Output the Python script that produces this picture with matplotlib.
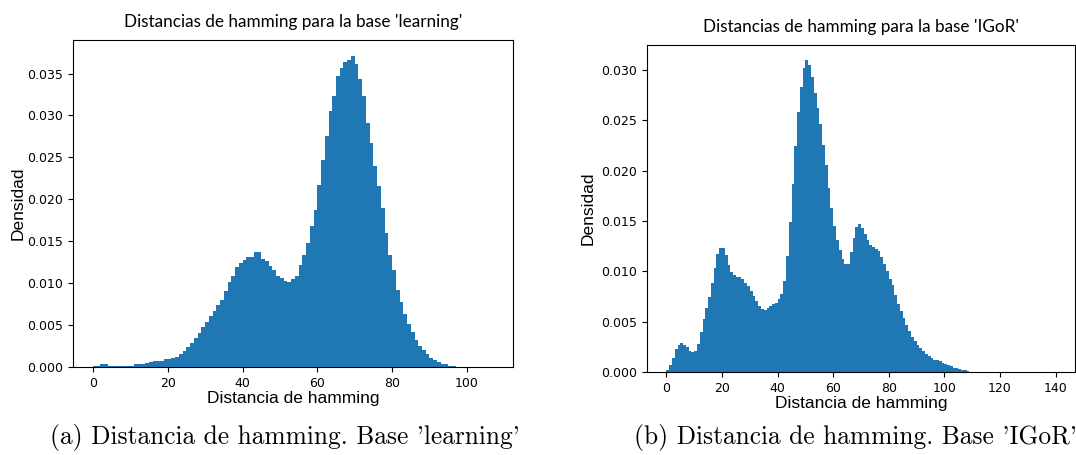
import numpy as np
import matplotlib.pyplot as plt

# densidad por distancia (bins de ancho 1, empezando en 0)
dens_learning = [
    0.0001, 0.0001, 0.0003, 0.0003, 0.0001, 0.0001, 0.0001, 0.0001, 0.0001, 0.0001,
    0.0001, 0.00035, 0.0003, 0.0004, 0.0005, 0.00055, 0.0007, 0.0007, 0.00075, 0.0009,
    0.0009, 0.0011, 0.0012, 0.0015, 0.0019, 0.0024, 0.0029, 0.0034, 0.0040, 0.0048,
    0.0054, 0.0061, 0.0067, 0.0074, 0.0080, 0.0091, 0.0101, 0.0108, 0.0119, 0.0124,
    0.0128, 0.0131, 0.0131, 0.0137, 0.0137, 0.0129, 0.0126, 0.0120, 0.0116, 0.0108,
    0.0106, 0.0102, 0.0101, 0.0105, 0.0108, 0.0122, 0.0134, 0.0148, 0.0168, 0.0187,
    0.0217, 0.0247, 0.0276, 0.0305, 0.0323, 0.0347, 0.0357, 0.0364, 0.0366, 0.0371,
    0.0361, 0.0343, 0.0323, 0.0291, 0.0267, 0.0240, 0.0216, 0.0190, 0.0160, 0.0133,
    0.0116, 0.0092, 0.0078, 0.0063, 0.0051, 0.0042, 0.0032, 0.0025, 0.0020, 0.0015,
    0.0011, 0.0008, 0.0006, 0.0004, 0.0003, 0.00015, 0.0001, 0.00004,
]

dens_igor = [
    0.00017, 0.0007, 0.0014, 0.0023, 0.0027, 0.0029, 0.0027, 0.0025, 0.0021, 0.0020,
    0.0021, 0.0028, 0.0040, 0.0053, 0.0064, 0.0075, 0.0088, 0.0103, 0.0117, 0.0123,
    0.0123, 0.0116, 0.0106, 0.0099, 0.0096, 0.0094, 0.0094, 0.0092, 0.0088, 0.0085,
    0.0081, 0.0076, 0.0071, 0.0066, 0.0063, 0.0062, 0.0064, 0.0066, 0.0068, 0.0069,
    0.0073, 0.0078, 0.0090, 0.0115, 0.0149, 0.0187, 0.0225, 0.0258, 0.0283, 0.0302,
    0.0310, 0.0305, 0.0293, 0.0277, 0.0262, 0.0246, 0.0226, 0.0206, 0.0183, 0.0163,
    0.0145, 0.0131, 0.0121, 0.0112, 0.0107, 0.0107, 0.0119, 0.0133, 0.0144, 0.0147,
    0.0143, 0.0137, 0.0131, 0.0126, 0.0124, 0.0122, 0.0120, 0.0114, 0.0107, 0.0100,
    0.0092, 0.0086, 0.0077, 0.0068, 0.0061, 0.0054, 0.0047, 0.0041, 0.0035, 0.0031,
    0.0027, 0.0024, 0.0021, 0.0018, 0.0016, 0.0014, 0.0012, 0.0012, 0.0011, 0.0009,
    0.0008, 0.0007, 0.0006, 0.0004, 0.00036, 0.0003, 0.0002, 0.00017, 0.0001, 0.00003,
]

titles = ["Distancias de hamming para la base 'learning'",
          "Distancias de hamming para la base 'IGoR'"]
captions = ["(a) Distancia de hamming. Base 'learning'",
            "(b) Distancia de hamming. Base 'IGoR'"]

fig = plt.figure(figsize=(10.76, 4.55), dpi=100)
ax1 = fig.add_axes([0.0678, 0.1934, 0.409, 0.7187])
ax2 = fig.add_axes([0.6013, 0.1824, 0.3978, 0.7187])

for ax, dens, title in [(ax1, dens_learning, titles[0]), (ax2, dens_igor, titles[1])]:
    edges = np.arange(len(dens) + 1)
    ax.hist(edges[:-1], bins=edges, weights=dens, color='#1f77b4')
    ax.set_title(title, fontsize=12.3, family=['Lato', 'DejaVu Sans'], pad=9)
    ax.set_xlabel("Distancia de hamming", fontsize=12.5, family='Liberation Sans', labelpad=1)
    ax.set_ylabel("Densidad", fontsize=12.5, family='Liberation Sans', labelpad=4)
    ax.tick_params(labelsize=9)

ax1.yaxis.labelpad = 1.5

ax1.set_xlim(-5.35, 112.35)
ax1.set_ylim(0, 0.039)
ax1.set_yticks(np.arange(0, 0.0351, 0.005))
ax1.set_xticks([0, 20, 40, 60, 80, 100])

ax2.set_xlim(-7, 147)
ax2.set_ylim(0, 0.0325)
ax2.set_yticks(np.arange(0, 0.0301, 0.005))
ax2.set_xticks([0, 20, 40, 60, 80, 100, 120, 140])

for ax in (ax1, ax2):
    ax.yaxis.set_major_formatter(plt.FormatStrFormatter('%.3f'))

fig.text(0.265, 0.025, captions[0], fontsize=18.3, family=['cmr10', 'DejaVu Serif'], ha='center')
fig.text(0.795, 0.025, captions[1], fontsize=18.3, family=['cmr10', 'DejaVu Serif'], ha='center')

fig.savefig('out.png', dpi=100)
